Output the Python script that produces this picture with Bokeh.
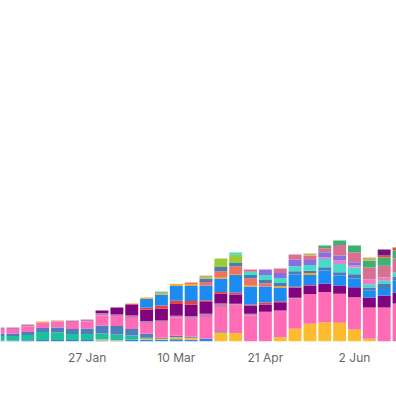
import pandas as pd
from bokeh.plotting import figure
from bokeh.models import ColumnDataSource, Range1d, FixedTicker
from bokeh.embed import file_html
from bokeh.resources import INLINE

# weekly bars, week starting dates
week_starts = pd.date_range("2018-12-16", periods=28, freq="7D")
week_labels = [f"{d.day} {d:%b}" for d in week_starts]
tick_weeks = [0, 6, 12, 18, 24]

blue        = [1.0, 1.0, 1.3, 1.5, 1.5, 1.5, 1.5, 1.0, 1.0, 2.0, 1.7, 1.7, 2.3, 1.7, 2.7, 0, 0, 0, 0, 0, 0, 0, 0, 0, 0, 0, 0, 0]
yellow      = [0, 0, 0, 0, 0, 0, 0, 1.0, 0.5, 0, 1.0, 1.0, 2.0, 2.0, 0, 9.0, 8.3, 0, 0, 4.3, 12.7, 17.7, 19.3, 18.7, 12.0, 2.7, 0, 0]
teal        = [4.5, 4.5, 5.2, 8.0, 7.5, 6.0, 6.0, 6.0, 5.5, 4.0, 1.0, 0, 0, 0, 0, 0, 0, 0, 0, 0, 0, 0, 0, 0, 0, 0, 0, 0]
steel       = [2.5, 2.5, 3.0, 4.0, 5.0, 5.0, 5.5, 8.0, 8.5, 6.5, 4.0, 1.0, 1.5, 1.0, 0, 1.3, 0, 0, 0, 0, 0, 0, 0, 0, 0, 0, 0, 0]
pink        = [4.5, 4.5, 5.5, 5.0, 6.0, 7.0, 7.0, 10.0, 10.0, 11.0, 10.7, 15.7, 18.3, 18.0, 21.7, 24.3, 28.4, 26.0, 29.7, 26.7, 30.0, 29.9, 30.1, 29.0, 32.3, 31.3, 34.0, 38.0]
mauve       = [1.5, 1.5, 2.0, 0.5, 0.5, 1.5, 2.0, 2.5, 1.5, 2.5, 2.0, 1.7, 1.7, 2.7, 3.3, 3.3, 1.0, 1.7, 0, 0, 1.0, 0, 0, 0, 0, 0, 0, 0]
purple      = [0, 0, 0, 0, 0, 0, 0, 2.5, 7.0, 11.0, 11.3, 11.7, 11.7, 11.7, 11.7, 10.0, 9.3, 8.3, 7.3, 8.3, 10.0, 8.3, 8.3, 8.3, 10.0, 10.0, 11.7, 11.0]
red         = [0, 0, 0, 0, 0, 0, 0, 0, 0, 0.5, 2.0, 3.3, 3.3, 3.3, 1.7, 1.7, 1.7, 1.0, 2.0, 1.0, 1.0, 0.5, 0, 0, 0, 0, 0, 0]
dodger      = [0, 0, 0, 0, 0, 0, 0, 0, 0, 0, 9.0, 10.7, 15.0, 15.0, 15.0, 13.3, 17.7, 18.0, 16.0, 13.3, 12.3, 10.0, 13.3, 10.0, 8.7, 6.7, 6.7, 12.0]
orange      = [0, 0, 0, 1.0, 0.5, 0, 0, 0, 0, 0.5, 1.3, 1.7, 1.7, 1.9, 0, 1.7, 1.0, 1.4, 0, 1.7, 0, 2.0, 0, 0, 0, 0, 0, 0]
tomato      = [0, 0, 0, 0, 0, 0, 0, 0, 0, 0, 0, 0, 0, 1.7, 3.3, 5.7, 7.7, 6.7, 3.3, 0, 0, 0, 0, 0, 0, 0, 0, 0]
steel2      = [0, 0, 0, 0, 0, 0, 0, 0, 0, 0, 0, 0, 0, 0, 3.3, 4.3, 3.3, 3.3, 3.3, 3.3, 3.3, 2.3, 3.3, 3.3, 4.3, 3.3, 5.0, 4.0]
yellowgreen = [0, 0, 0, 0, 0, 0, 0, 0, 0, 0, 0, 0, 0, 0, 0, 8.3, 8.3, 0, 0, 0, 0, 0, 0, 0, 0, 0, 0, 0]
turquoise   = [0, 0, 0, 0, 0, 0, 0, 0, 0, 0, 0, 1.5, 0, 0, 0, 0, 2.3, 3.3, 5.0, 5.0, 5.0, 5.7, 8.3, 8.3, 6.7, 3.3, 3.3, 4.0]
orchid      = [0, 0, 0, 0, 0, 0, 0, 0, 0, 0, 0, 0, 0, 0, 0, 0, 0, 0, 0, 0, 0, 0, 1.7, 3.3, 2.0, 5.0, 3.3, 0]
mediumpurple = [0, 0, 0, 0, 0, 0, 0, 0, 0, 0, 0, 0, 0, 0, 0, 0, 0, 0, 5.4, 5.0, 6.7, 5.0, 5.0, 5.0, 3.3, 0, 0, 0]
palevioletred = [0, 0, 0, 0, 0, 0, 0, 0, 0, 0, 0, 0, 0, 0, 0, 0, 0, 2.3, 0, 4.4, 5.0, 4.3, 4.0, 10.7, 10.0, 11.7, 11.7, 14.0]
seagreen    = [0, 0, 0, 0, 0, 0, 0, 0, 0, 0, 0, 0, 0, 0, 0, 0, 0, 0, 0, 0, 0, 0, 2.7, 4.3, 6.7, 6.7, 8.3, 8.0]
khaki       = [0, 0, 0, 0, 0, 0, 0, 0, 0, 0, 0, 0, 0, 0, 3.3, 0, 0, 0, 0, 0, 0, 2.3, 0, 0, 0, 3.3, 0, 0]
red2        = [0, 0, 0, 0, 0, 0, 0, 0, 0, 0, 0, 0, 0, 0, 0, 0, 0, 0, 0, 0, 0, 0, 0, 0, 0, 0, 2.0, 3.0]
darkpurple  = [0, 0, 0, 0, 0, 0, 0, 0, 0, 0, 0, 0, 0, 0, 0, 0, 0, 0, 0, 0, 0, 0, 0, 0, 0, 0, 6.0, 0]

series = {
    "blue": (blue, "#2E86DE"),
    "yellow": (yellow, "#FDBB2F"),
    "teal": (teal, "#1FBF9C"),
    "steel": (steel, "#4E7EBC"),
    "pink": (pink, "#FF6CB5"),
    "mauve": (mauve, "#C57AB8"),
    "purple": (purple, "#800480"),
    "red": (red, "#E8413E"),
    "dodger": (dodger, "#1C8CF2"),
    "orange": (orange, "#F6A623"),
    "tomato": (tomato, "#F2705F"),
    "steel2": (steel2, "#4A7DB4"),
    "yellowgreen": (yellowgreen, "#9CCB3A"),
    "turquoise": (turquoise, "#45DCCB"),
    "orchid": (orchid, "#F07CC8"),
    "mediumpurple": (mediumpurple, "#8B6FE0"),
    "palevioletred": (palevioletred, "#D9708F"),
    "seagreen": (seagreen, "#3BB273"),
    "khaki": (khaki, "#C0B46A"),
    "red2": (red2, "#E4502E"),
    "darkpurple": (darkpurple, "#73137E"),
}

data = {"x": list(range(len(week_labels)))}
for name, (vals, _) in series.items():
    data[name] = vals
source = ColumnDataSource(data)

p = figure(width=396, height=380, output_backend="svg", toolbar_location=None,
           x_range=Range1d(0.162, 26.83), y_range=Range1d(0, 341),
           y_axis_location=None,
           min_border_left=0, min_border_right=0, min_border_top=0, min_border_bottom=39)
p.vbar_stack(list(series.keys()), x="x", width=0.87, source=source,
             color=[c for _, c in series.values()], line_color=None)

p.xgrid.grid_line_color = None
p.ygrid.grid_line_color = None
p.outline_line_color = None
ax = p.xaxis[0]
ax.ticker = FixedTicker(ticks=tick_weeks)
ax.major_label_overrides = {k: week_labels[k] for k in tick_weeks}
ax.axis_line_color = None
ax.major_tick_line_color = None
ax.minor_tick_line_color = None
ax.major_tick_out = 0
ax.major_label_standoff = 8
ax.major_label_text_font = "Inter"
ax.major_label_text_font_size = "12px"
ax.major_label_text_color = "#666666"

open("out.html", "w").write(file_html(p, INLINE))
